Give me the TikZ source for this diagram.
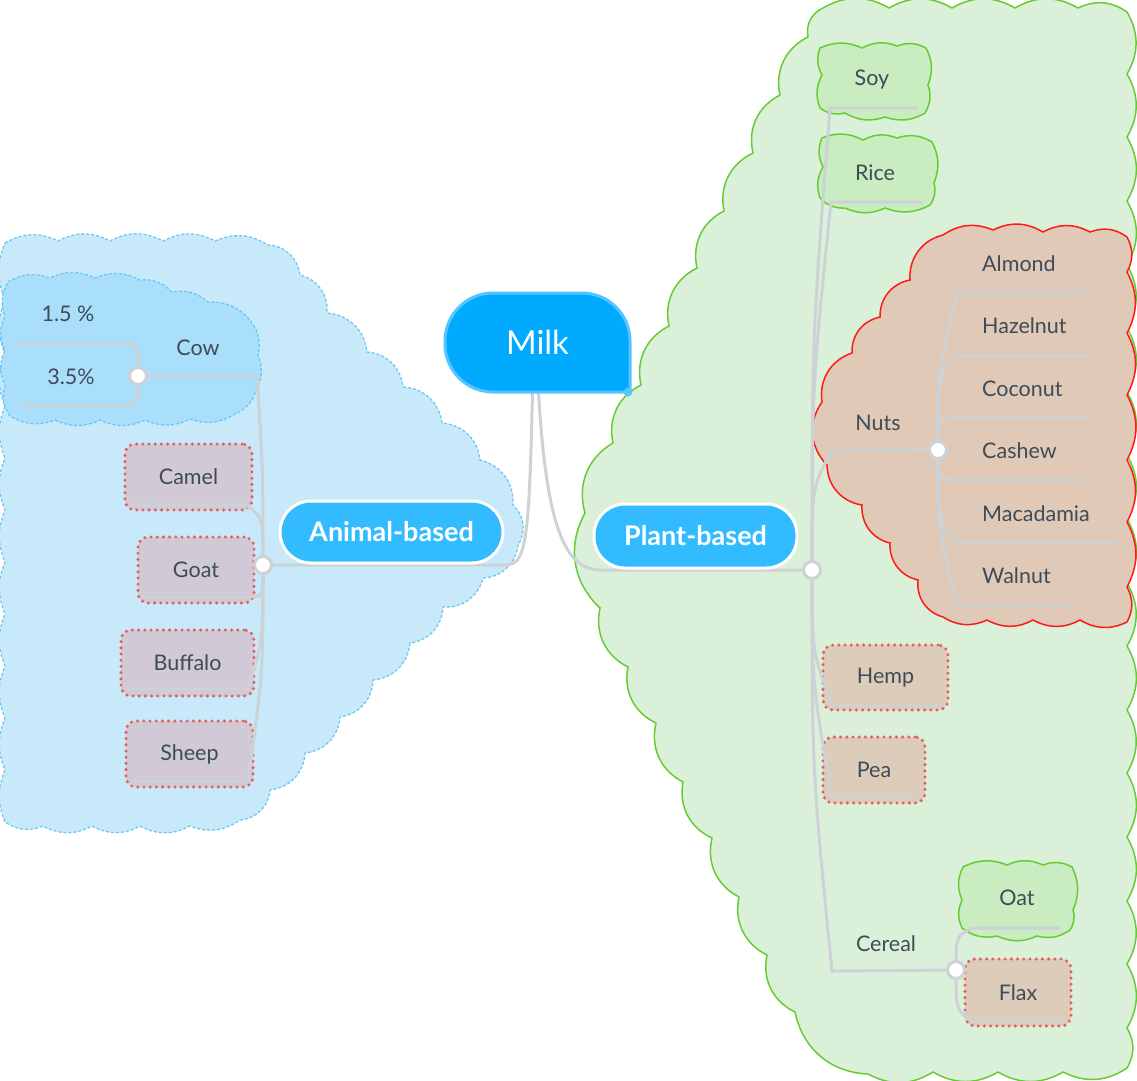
\documentclass[tikz,border=0pt]{standalone}
\usepackage{fontspec}
\setmainfont{Lato}
\usetikzlibrary{calc}
\definecolor{bluebg}{HTML}{C8E9F9}
\definecolor{bluecow}{HTML}{A9DFFB}
\definecolor{bluedash}{HTML}{64C6F3}
\definecolor{greenbg}{HTML}{DBF0D9}
\definecolor{greenln}{HTML}{66CC33}
\definecolor{greensm}{HTML}{C9ECC1}
\definecolor{nutsbg}{HTML}{E0CAB7}
\definecolor{redln}{HTML}{FF1A1A}
\definecolor{boxb}{HTML}{D1C9D5}
\definecolor{boxg}{HTML}{DDCCB9}
\definecolor{dotc}{HTML}{E65E5E}
\definecolor{connc}{HTML}{CDD2D6}
\definecolor{txtc}{HTML}{3E4B58}
\definecolor{milkc}{HTML}{00AAFF}
\definecolor{milkb}{HTML}{55C5FF}
\definecolor{mainc}{HTML}{33BBFF}
\pgfdeclarelayer{bg}
\pgfdeclarelayer{boxes}
\pgfdeclarelayer{conns}
\pgfsetlayers{bg,boxes,conns,main}
\newcommand\branch[4]{\draw[conn] (#1) .. controls ($(#1)!#4!(#1|-#2)$) .. (#2) -- (#3);}
\begin{document}
\begin{tikzpicture}[x=1pt,y=-1pt,
 conn/.style={draw=connc,line width=3pt},
 junc/.style={circle,fill=white,draw=connc,line width=3pt,minimum size=17pt,inner sep=0pt},
 lbl/.style={text=txtc,font=\fontsize{21.5}{25}\selectfont,inner sep=0pt},
 dbox/.style={rectangle,rounded corners=10pt,draw=dotc,line width=3.4pt,dash pattern=on 0pt off 6.2pt,line cap=round,inner sep=0pt,text=txtc,font=\fontsize{21.5}{25}\selectfont},
 mainnode/.style={rectangle,rounded corners=31pt,fill=mainc,draw=white,line width=3pt,text=white,font=\bfseries\fontsize{27}{32}\selectfont,inner sep=0pt},
 gcloud/.style={fill=greenbg,draw=greenln,line width=1.5pt},
 gsmall/.style={fill=greensm,draw=greenln,line width=1.5pt},
 bcloud/.style={fill=bluebg,draw=bluedash,line width=1.2pt,dash pattern=on 3pt off 2pt},
 bcow/.style={fill=bluecow,draw=bluedash,line width=1.2pt,dash pattern=on 3pt off 2pt},
 ncloud/.style={fill=nutsbg,draw=redln,line width=1.5pt}
]
\useasboundingbox (0,0) rectangle (1137,1080);

\begin{pgfonlayer}{bg}
% green plant-based cloud
\filldraw[gcloud] (823,8)
 \foreach \x/\y in {889/8,952/8,1015/8,1078/8,1127/12} {to[bend left=30] (\x,\y)}
 \foreach \y in {74,137,201,265,328,392,455,519,583,646,710,773,837,901,964,1028,1068} {to[bend left=30] (1127,\y)}
 \foreach \x/\y in {1063/1072,998/1072,933/1072,868/1074} {to[bend left=30] (\x,\y)}
 \foreach \x/\y in {795/1012,767/955,739/897,712/838,683/782,656/723,628/667,600/608,585/513,613/443,641/385,669/326,697/268,724/211,753/153,780/95,808/37,823/8} {to[bend left=38] (\x,\y)} -- cycle;
% blue animal-based cloud
\filldraw[bcloud] (5,243)
 \foreach \x/\y in {58/241,110/241,163/241,215/241,268/245} {to[bend left=28] (\x,\y)}
 \foreach \x/\y in {300/275,327/313,367/352,403/387,442/423,480/460,513/505,518/545,483/578,443/607,410/643,373/680,340/717,305/753,270/790,240/820} {to[bend left=40] (\x,\y)}
 \foreach \x/\y in {190/826,140/826,92/826,43/826,5/822} {to[bend left=28] (\x,\y)}
 \foreach \y in {770,718,666,614,562,510,458,406,354,300,243} {to[bend left=22] (5,\y)} -- cycle;
% nuts cloud
\filldraw[ncloud] (943,235)
 \foreach \x/\y in {993/230,1043/232,1090/232,1127/237} {to[bend left=28] (\x,\y)}
 \foreach \y in {272,333,395,460,522,587,622} {to[bend left=28] (1127,\y)}
 \foreach \x/\y in {1080/620,1033/620,987/620,943/617} {to[bend left=28] (\x,\y)}
 \foreach \x/\y in {918/580,890/543,862/505,827/465,822/402,852/353,880/317,910/280,943/235} {to[bend left=40] (\x,\y)} -- cycle;
% cow cloud
\filldraw[bcow] (8,282)
 \foreach \x/\y in {50/278,95/278,140/280,172/292,208/302,250/320,258/355,256/390,235/414,190/419,145/420,100/420,55/420,10/416,5/385,5/350,5/316,8/282} {to[bend left=25] (\x,\y)} -- cycle;
% soy, rice, oat clouds
\filldraw[gsmall] (820,48)
 \foreach \x/\y in {862/48,897/46,926/48,928/85,925/113,885/117,845/113,820/108,822/75,820/48} {to[bend left=24] (\x,\y)} -- cycle;
\filldraw[gsmall] (822,138)
 \foreach \x/\y in {863/140,897/138,932/142,934/183,930/205,885/208,845/208,820/198,823/167,822/138} {to[bend left=24] (\x,\y)} -- cycle;
\filldraw[gsmall] (963,867)
 \foreach \x/\y in {1007/865,1043/865,1072/867,1073/910,1070/930,1037/936,997/936,962/928,962/900,963/867} {to[bend left=24] (\x,\y)} -- cycle;
\end{pgfonlayer}

\begin{pgfonlayer}{boxes}
\node[dbox,fill=boxb,minimum width=127pt,minimum height=66pt] (camel) at (188.5,477) {Camel};
\node[dbox,fill=boxb,minimum width=116pt,minimum height=66pt] (goat) at (196,570) {Goat};
\node[dbox,fill=boxb,minimum width=133pt,minimum height=66pt] (buffalo) at (187.5,663) {Buffalo};
\node[dbox,fill=boxb,minimum width=127pt,minimum height=66pt] (sheep) at (189.5,754) {Sheep};
\node[dbox,fill=boxg,minimum width=125pt,minimum height=65pt] (hemp) at (885.5,677.5) {Hemp};
\node[dbox,fill=boxg,minimum width=102pt,minimum height=66pt] (pea) at (874,770) {Pea};
\node[dbox,fill=boxg,minimum width=106pt,minimum height=67pt] (flax) at (1018,992.5) {Flax};
\end{pgfonlayer}

% coordinates
\coordinate (jA) at (263,565);
\coordinate (jC) at (138,376);
\coordinate (jP) at (812,570);
\coordinate (jN) at (938,450);
\coordinate (jR) at (956,970);
\coordinate (kCow) at (257,376);
\coordinate (kCamel) at (246,505); \coordinate (eCamel) at (130,505);
\coordinate (kGoat) at (248,597); \coordinate (eGoat) at (143,597);
\coordinate (kBuffalo) at (248,689); \coordinate (eBuffalo) at (126,689);
\coordinate (kSheep) at (248,781); \coordinate (eSheep) at (131,781);
\coordinate (kA) at (120,343); \coordinate (eA) at (16,343);
\coordinate (kB) at (120,405); \coordinate (eB) at (22,405);
\coordinate (kSoy) at (830,108); \coordinate (eSoy) at (917,108);
\coordinate (kRice) at (831,202); \coordinate (eRice) at (922,202);
\coordinate (kNuts) at (832,451);
\coordinate (kHemp) at (832,705); \coordinate (eHemp) at (940,705);
\coordinate (kPea) at (832,797); \coordinate (ePea) at (917,797);
\coordinate (kCereal) at (832,971);
\coordinate (kAlm) at (957,293); \coordinate (eAlm) at (1083,293);
\coordinate (kHaz) at (957,356); \coordinate (eHaz) at (1092,356);
\coordinate (kCoc) at (957,418); \coordinate (eCoc) at (1088,418);
\coordinate (kCas) at (957,480); \coordinate (eCas) at (1083,480);
\coordinate (kMac) at (957,543); \coordinate (eMac) at (1117,543);
\coordinate (kWal) at (957,605); \coordinate (eWal) at (1073,605);
\coordinate (kOat) at (972,928); \coordinate (eOat) at (1060,928);
\coordinate (kFlax) at (973,1021); \coordinate (eFlax) at (1063,1021);

% milk shape
\filldraw[fill=milkc,draw=milkb,line width=3pt,rounded corners=48pt] (630,392) -- (445,392) -- (445,293) -- (630,293) -- (630,392);
\node[text=white,font=\fontsize{33}{40}\selectfont,minimum width=185pt,minimum height=99pt,inner sep=0pt] (milk) at (537.5,342.5) {Milk};
\fill[milkb] (628,392) circle[radius=4.5pt];

\node[mainnode,minimum width=223pt,minimum height=62pt] (animal) at (391.5,532) {Animal-based};
\node[mainnode,minimum width=203pt,minimum height=64pt] (plant) at (695.5,536) {Plant-based};

\begin{pgfonlayer}{conns}
\draw[conn] ($(milk.south)+(-5,0)$) .. controls (529,545) and (526,565) .. (505,565) -- (jA);
\draw[conn] ($(milk.south)+(1,0)$) .. controls (546,520) and (563,570) .. (600,570) -- (jP);
\branch{jA}{kCow}{jC}{0.5}
\branch{jA}{kCamel}{eCamel}{0.8}
\branch{jA}{kGoat}{eGoat}{1}
\branch{jA}{kBuffalo}{eBuffalo}{0.6}
\branch{jA}{kSheep}{eSheep}{0.5}
\branch{jC}{kA}{eA}{1}
\branch{jC}{kB}{eB}{1}
\branch{jP}{kSoy}{eSoy}{0.5}
\branch{jP}{kRice}{eRice}{0.5}
\branch{jP}{kNuts}{jN}{0.7}
\branch{jP}{kHemp}{eHemp}{0.6}
\branch{jP}{kPea}{ePea}{0.5}
\branch{jP}{kCereal}{jR}{0.5}
\branch{jN}{kAlm}{eAlm}{0.5}
\branch{jN}{kHaz}{eHaz}{0.8}
\branch{jN}{kCoc}{eCoc}{1}
\branch{jN}{kCas}{eCas}{1}
\branch{jN}{kMac}{eMac}{0.8}
\branch{jN}{kWal}{eWal}{0.5}
\branch{jR}{kOat}{eOat}{0.8}
\branch{jR}{kFlax}{eFlax}{0.8}
\end{pgfonlayer}

% junction circles
\node[junc] (cA) at (jA) {};
\node[junc] (cC) at (jC) {};
\node[junc] (cP) at (jP) {};
\node[junc] (cN) at (jN) {};
\node[junc] (cR) at (jR) {};

% labels
\node[lbl] (cow) at (198,348) {Cow};
\node[lbl] (p15) at (68,314) {1.5 \%};
\node[lbl] (p35) at (71,377) {3.5\%};
\node[lbl] (soy) at (872,80) {Soy};
\node[lbl] (rice) at (875,173) {Rice};
\node[lbl] (nuts) at (878,423) {Nuts};
\node[lbl] (cereal) at (886,944) {Cereal};
\node[lbl] (oat) at (1017,898) {Oat};
\node[lbl,anchor=west] (almond) at (982,264) {Almond};
\node[lbl,anchor=west] (hazelnut) at (982,326) {Hazelnut};
\node[lbl,anchor=west] (coconut) at (982,389) {Coconut};
\node[lbl,anchor=west] (cashew) at (982,451) {Cashew};
\node[lbl,anchor=west] (macadamia) at (982,514) {Macadamia};
\node[lbl,anchor=west] (walnut) at (982,576) {Walnut};
\end{tikzpicture}
\end{document}
